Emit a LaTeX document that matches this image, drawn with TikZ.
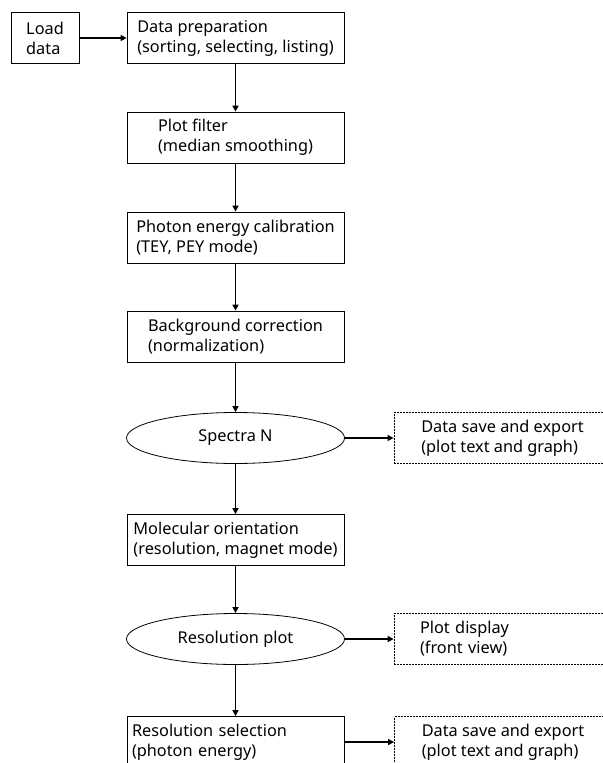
\documentclass[tikz,border=0pt]{standalone}
\usepackage{fontspec}
\setmainfont{Noto Sans}
\usetikzlibrary{shapes.geometric,arrows.meta}

\begin{document}
\begin{tikzpicture}[x=1bp,y=-1bp,
    font=\fontsize{16.3bp}{20bp}\selectfont,
    stepbox/.style={draw,line width=0.8bp,minimum width=217bp,minimum height=51bp,inner sep=0pt,align=left},
    oval/.style={draw,ellipse,line width=0.8bp,minimum width=218bp,minimum height=51bp,inner sep=0pt},
    outbox/.style={draw,line width=0.8bp,dash pattern=on 2bp off 1bp,minimum width=217bp,minimum height=51bp,inner sep=0pt,align=left},
    flow/.style={line width=1.8bp,-{Triangle[length=6bp,width=6bp]}}]
                \clip (0,0) rectangle (603,763);
                \useasboundingbox (0,0) rectangle (603,763);
                \node[stepbox,minimum width=68bp] (load) at (45,38) {Load\\data};
                \node[stepbox] (prep) at (235.5,38) {Data preparation\\(sorting, selecting, listing)};
                \node[stepbox] (filter) at (235.5,137.5) {Plot filter\\(median smoothing)};
                \node[stepbox] (calib) at (235.5,237.5) {Photon energy calibration\\(TEY, PEY mode)};
                \node[stepbox] (backg) at (235.5,336.5) {Background correction\\(normalization)};
                \node[oval] (spectra) at (235.5,438) {Spectra N};
                \node[outbox] (save1) at (502.5,438) {Data save and export\\(plot text and graph)};
                \node[stepbox] (orient) at (235.5,540) {Molecular orientation\\(resolution, magnet mode)};
                \node[oval] (resplot) at (235.5,639) {Resolution plot};
                \node[outbox,text width=165bp] (display) at (502.5,639) {Plot display\\(front view)};
                \node[stepbox,text width=207bp] (select) at (235.5,742) {Resolution selection\\(photon energy)};
                \node[outbox] (save2) at (503,742) {Data save and export\\(plot text and graph)};
                \draw[flow] (load) -- (prep);
                \draw[flow] (prep) -- (filter);
                \draw[flow] (filter) -- (calib);
                \draw[flow] (calib) -- (backg);
                \draw[flow] (backg) -- (spectra);
                \draw[flow] (spectra) -- (save1);
                \draw[flow] (spectra) -- (orient);
                \draw[flow] (orient) -- (resplot);
                \draw[flow] (resplot) -- (display);
                \draw[flow] (resplot) -- (select);
                \draw[flow] (select) -- (save2);
            \end{tikzpicture}
\end{document}
